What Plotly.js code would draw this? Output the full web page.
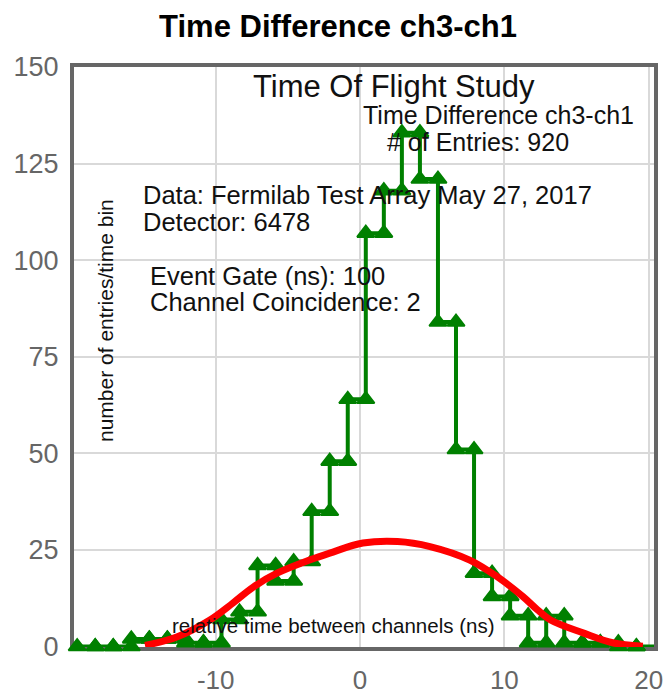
<!DOCTYPE html>
<html><head><meta charset="utf-8">
<script src="https://cdn.plot.ly/plotly-3.0.1.min.js"></script>
<style>html,body{margin:0;padding:0;background:#fff}</style>
</head><body><div id="chart" style="width:666px;height:697px"></div>
<script>
// ---- data ----
const binEdges = [-19.6, -18.35, -17.1, -15.85, -14.6, -13.35, -12.1, -10.85, -9.6, -8.35, -7.1, -5.85, -4.6, -3.35, -2.1, -0.85, 0.4, 1.65, 2.9, 4.15, 5.4, 6.65, 7.9, 9.15, 10.4, 11.65, 12.9, 14.15, 15.4, 16.65, 17.9, 19.15, 20.4];
const counts = [0, 0, 0, 2, 2, 2, 1, 1, 7, 9, 21, 17, 22, 35, 48, 64, 107, 118, 133, 121, 84, 51, 19, 13, 8, 1, 8, 1, 1, 1, 0, 0];
const fitX = [-14.9, -12.7, -10.4, -8.8, -7.4, -5.75, -3.5, -2.1, 0.2, 2.6, 4.85, 7.6, 9.5, 11.3, 12.3, 13.2, 15.5, 17.5, 19.6];
const fitY = [0.3, 2.5, 6.9, 11.3, 15.4, 19, 22.4, 24.2, 26.8, 27.2, 25.9, 22.4, 18.1, 12.9, 9.5, 6.9, 3.5, 1.0, 0.1];
const xTicks = [-10, 0, 10, 20];
const yTicks = [0, 25, 50, 75, 100, 125, 150];
const chartTitle = 'Time Difference ch3-ch1';
const xTitle = 'relative time between channels (ns)';
const yTitle = 'number of entries/time bin';
const infoLines = {
  study: 'Time Of Flight Study',
  diff: 'Time Difference ch3-ch1',
  entries: '# of Entries: 920',
  data: 'Data: Fermilab Test Array May 27, 2017',
  detector: 'Detector: 6478',
  gate: 'Event Gate (ns): 100',
  coinc: 'Channel Coincidence: 2'
};

// histogram outline: each bin drawn from its left edge to its right edge at its count
const histX = [], histY = [];
for (let i = 0; i < counts.length; i++) {
  histX.push(binEdges[i], binEdges[i + 1]);
  histY.push(counts[i], counts[i]);
}

const FONT = 'Liberation Sans, Arial, Helvetica, sans-serif';
const L = 74, R = 12, T = 67, B = 50, W = 666, H = 697;
const pw = W - L - R, ph = H - T - B;
const px = v => (v - L) / pw;
const py = v => (H - B - v) / ph;

function ann(text, x, y, size, xanchor, extra) {
  return Object.assign({
    text: text, xref: 'paper', yref: 'paper', x: px(x), y: py(y),
    xanchor: xanchor, yanchor: 'middle', showarrow: false,
    font: {family: FONT, size: size, color: '#111'}
  }, extra || {});
}

const traces = [
  {
    x: histX, y: histY, type: 'scatter', mode: 'lines+markers',
    line: {color: '#008000', width: 4},
    marker: {symbol: 'triangle-up', size: 15, color: '#008000', line: {color: '#008000', width: 2}},
    cliponaxis: false, hoverinfo: 'skip'
  },
  {
    x: fitX, y: fitY, type: 'scatter', mode: 'lines',
    line: {color: '#ff0000', width: 7, shape: 'spline', smoothing: 1},
    cliponaxis: false, hoverinfo: 'skip'
  }
];

const layout = {
  width: W, height: H,
  margin: {l: L, r: R, t: T, b: B, pad: 0},
  paper_bgcolor: '#ffffff', plot_bgcolor: '#ffffff',
  showlegend: false,
  title: {
    text: chartTitle, xref: 'container', yref: 'container',
    x: 338 / W, xanchor: 'center', y: 1 - 26 / H, yanchor: 'middle',
    font: {family: FONT, size: 31, color: '#000', weight: 700}
  },
  xaxis: {
    range: [-19.82, 20.37], tickvals: xTicks, ticktext: xTicks.map(String),
    showgrid: true, gridcolor: '#d9d9d9', gridwidth: 2,
    zeroline: false, showline: true, linecolor: '#666', linewidth: 4, mirror: true,
    ticks: '', ticklabelstandoff: 7, layer: 'below traces',
    tickfont: {family: FONT, size: 26, color: '#666'}
  },
  yaxis: {
    range: [-0.1, 150], tickvals: yTicks, ticktext: yTicks.map(String),
    showgrid: true, gridcolor: '#d9d9d9', gridwidth: 2,
    zeroline: false, showline: true, linecolor: '#666', linewidth: 4, mirror: true,
    ticks: '', ticklabelstandoff: 6, layer: 'below traces',
    tickfont: {family: FONT, size: 27, color: '#666'}
  },
  annotations: [
    ann(infoLines.study, 394, 87, 31, 'center'),
    ann(infoLines.diff, 498, 115, 25, 'center'),
    ann(infoLines.entries, 478, 142, 25, 'center'),
    ann(infoLines.data, 141, 195, 25.5, 'left'),
    ann(infoLines.detector, 141, 222, 25.5, 'left'),
    ann(infoLines.gate, 148, 276, 25.5, 'left'),
    ann(infoLines.coinc, 148, 302, 25.5, 'left'),
    ann(yTitle, 105, 321, 21, 'center', {textangle: -90}),
    ann(xTitle, 333, 625, 20.5, 'center')
  ]
};

Plotly.newPlot('chart', traces, layout, {displayModeBar: false, staticPlot: true});
</script>
</body></html>
